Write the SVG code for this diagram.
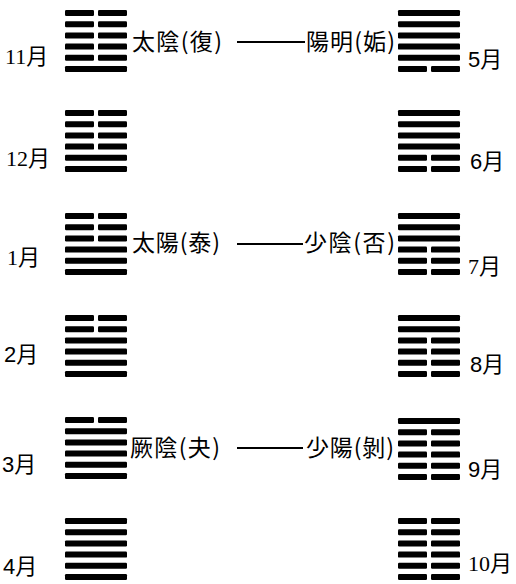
<svg xmlns="http://www.w3.org/2000/svg" xmlns:xlink="http://www.w3.org/1999/xlink" width="516" height="584" viewBox="0 0 516 584">
<style>
.bar{fill:#000}
.m{font-family:"Liberation Sans","Noto Sans CJK JP",sans-serif;font-size:22px;fill:#000}
.ms{font-family:"Liberation Serif","Noto Sans CJK JP",serif;font-size:22px;fill:#000}
.t{font-family:"Noto Sans CJK JP",sans-serif;font-size:23px;fill:#000}
.c{stroke:#000;stroke-width:2.2;fill:none}
</style>
<defs>
<rect id="y" class="bar" width="62" height="6" rx="1.2"/>
<g id="n"><rect class="bar" width="29" height="6" rx="1.2"/><rect class="bar" x="33" width="29" height="6" rx="1.2"/></g>
</defs>
<g id="connectors">
<line class="c" x1="237" y1="42" x2="305" y2="42"/>
<line class="c" x1="237" y1="244" x2="303" y2="244"/>
<line class="c" x1="237" y1="448" x2="303" y2="448"/>
</g>
<g id="m11">
<use href="#n" x="65" y="10"/><use href="#n" x="65" y="21.2"/><use href="#n" x="65" y="32.4"/><use href="#n" x="65" y="43.6"/><use href="#n" x="65" y="54.8"/><use href="#y" x="65" y="66"/>
<text class="ms" x="5" y="64">11月</text>
</g>
<g id="m12">
<use href="#n" x="65" y="110"/><use href="#n" x="65" y="121.2"/><use href="#n" x="65" y="132.4"/><use href="#n" x="65" y="143.6"/><use href="#y" x="65" y="154.8"/><use href="#y" x="65" y="166"/>
<text class="ms" x="6" y="166">12月</text>
</g>
<g id="m1">
<use href="#n" x="65" y="213"/><use href="#n" x="65" y="224.2"/><use href="#n" x="65" y="235.4"/><use href="#y" x="65" y="246.6"/><use href="#y" x="65" y="257.8"/><use href="#y" x="65" y="269"/>
<text class="ms" x="7" y="265">1月</text>
</g>
<g id="m2">
<use href="#n" x="65" y="315"/><use href="#n" x="65" y="326.2"/><use href="#y" x="65" y="337.4"/><use href="#y" x="65" y="348.6"/><use href="#y" x="65" y="359.8"/><use href="#y" x="65" y="371"/>
<text class="m" x="4" y="362">2月</text>
</g>
<g id="m3">
<use href="#n" x="65" y="417"/><use href="#y" x="65" y="428.2"/><use href="#y" x="65" y="439.4"/><use href="#y" x="65" y="450.6"/><use href="#y" x="65" y="461.8"/><use href="#y" x="65" y="473"/>
<text class="m" x="2" y="472">3月</text>
</g>
<g id="m4">
<use href="#y" x="65" y="518"/><use href="#y" x="65" y="529.2"/><use href="#y" x="65" y="540.4"/><use href="#y" x="65" y="551.6"/><use href="#y" x="65" y="562.8"/><use href="#y" x="65" y="574"/>
<text class="m" x="3" y="574">4月</text>
</g>
<g id="m5">
<use href="#y" x="398" y="10"/><use href="#y" x="398" y="21.2"/><use href="#y" x="398" y="32.4"/><use href="#y" x="398" y="43.6"/><use href="#y" x="398" y="54.8"/><use href="#n" x="398" y="66"/>
<text class="m" x="468" y="67">5月</text>
</g>
<g id="m6">
<use href="#y" x="398" y="110"/><use href="#y" x="398" y="121.2"/><use href="#y" x="398" y="132.4"/><use href="#y" x="398" y="143.6"/><use href="#n" x="398" y="154.8"/><use href="#n" x="398" y="166"/>
<text class="m" x="470" y="169">6月</text>
</g>
<g id="m7">
<use href="#y" x="398" y="213"/><use href="#y" x="398" y="224.2"/><use href="#y" x="398" y="235.4"/><use href="#n" x="398" y="246.6"/><use href="#n" x="398" y="257.8"/><use href="#n" x="398" y="269"/>
<text class="ms" x="468" y="274">7月</text>
</g>
<g id="m8">
<use href="#y" x="398" y="315"/><use href="#y" x="398" y="326.2"/><use href="#n" x="398" y="337.4"/><use href="#n" x="398" y="348.6"/><use href="#n" x="398" y="359.8"/><use href="#n" x="398" y="371"/>
<text class="m" x="470" y="372">8月</text>
</g>
<g id="m9">
<use href="#y" x="398" y="418"/><use href="#n" x="398" y="429.2"/><use href="#n" x="398" y="440.4"/><use href="#n" x="398" y="451.6"/><use href="#n" x="398" y="462.8"/><use href="#n" x="398" y="474"/>
<text class="m" x="468" y="477">9月</text>
</g>
<g id="m10">
<use href="#n" x="398" y="518"/><use href="#n" x="398" y="529.2"/><use href="#n" x="398" y="540.4"/><use href="#n" x="398" y="551.6"/><use href="#n" x="398" y="562.8"/><use href="#n" x="398" y="574"/>
<text class="ms" x="468" y="571">10月</text>
</g>
<g id="l1"><text class="t" x="132" y="49.5" textLength="90" lengthAdjust="spacing">太陰(復)</text></g>
<g id="r1"><text class="t" x="306" y="49.5" textLength="89" lengthAdjust="spacing">陽明(姤)</text></g>
<g id="l2"><text class="t" x="132" y="251" textLength="88" lengthAdjust="spacing">太陽(泰)</text></g>
<g id="r2"><text class="t" x="304" y="251" textLength="91" lengthAdjust="spacing">少陰(否)</text></g>
<g id="l3"><text class="t" x="130" y="456" textLength="90" lengthAdjust="spacing">厥陰(夬)</text></g>
<g id="r3"><text class="t" x="306" y="456" textLength="88" lengthAdjust="spacing">少陽(剝)</text></g>
</svg>
